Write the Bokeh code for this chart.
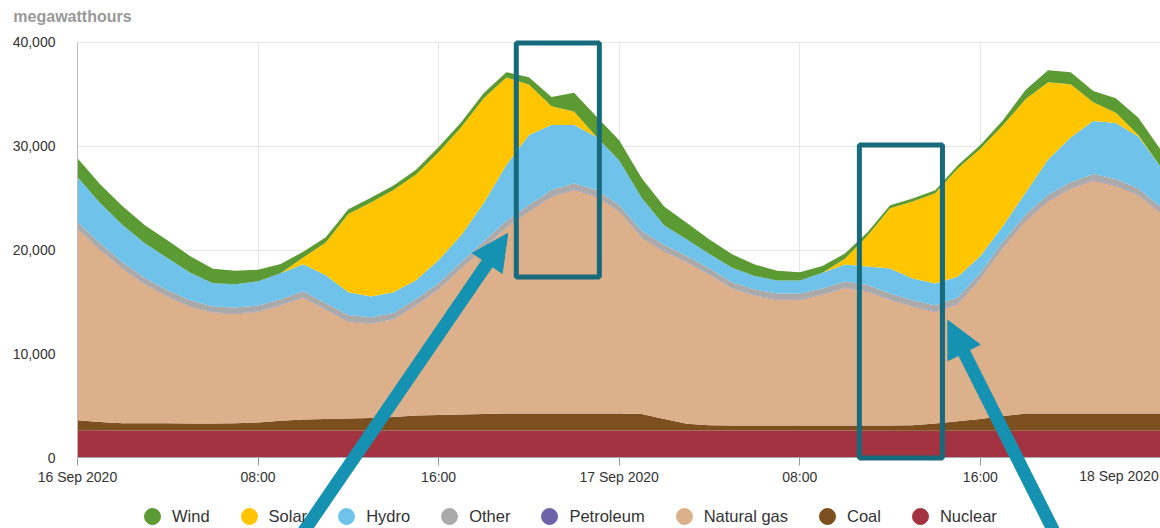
from bokeh.plotting import figure
from bokeh.models import (ColumnDataSource, FixedTicker, NumeralTickFormatter, Legend,
                          LegendItem, Label, BoxAnnotation, Arrow, NormalHead, Grid)
from bokeh.embed import file_html
from bokeh.resources import INLINE

# ---------------- data (hours after 16 Sep 2020 00:00, megawatthours) ----------------
hours = list(range(49))

nuclear = [2620, 2620, 2610, 2610, 2610, 2600, 2600, 2600, 2600, 2600,
           2600, 2600, 2600, 2600, 2600, 2600, 2600, 2600, 2600, 2600,
           2600, 2600, 2600, 2600, 2600, 2600, 2600, 2600, 2600, 2600,
           2600, 2600, 2600, 2600, 2600, 2590, 2590, 2590, 2590, 2590,
           2590, 2590, 2590, 2590, 2590, 2590, 2590, 2590, 2590]
coal = [970, 800, 700, 680, 680, 680, 680, 690, 780, 950,
        1060, 1100, 1150, 1200, 1300, 1450, 1500, 1550, 1600, 1640,
        1640, 1640, 1640, 1640, 1640, 1600, 1100, 650, 500, 490,
        485, 485, 485, 485, 485, 485, 485, 520, 680, 900,
        1130, 1400, 1640, 1640, 1640, 1640, 1640, 1640, 1640]
natural_gas = [18470, 16590, 14890, 13360, 12210, 11260, 10660, 10550, 10660, 11090,
               11730, 10540, 9340, 9090, 9390, 10590, 12090, 14040, 15990, 17900,
               19450, 20900, 21550, 20900, 19450, 16990, 16140, 15540, 14490, 13200,
               12505, 12105, 12105, 12605, 13255, 12905, 12105, 11420, 10760, 11290,
               13460, 16190, 18550, 20450, 21650, 22450, 21950, 21050, 19250]
petroleum = [30, 30, 30, 30, 30, 30, 30, 30, 30, 30,
             35, 35, 35, 35, 35, 35, 35, 35, 35, 35,
             35, 35, 35, 35, 30, 30, 30, 30, 30, 30,
             30, 30, 30, 30, 30, 35, 35, 35, 35, 35,
             35, 35, 35, 35, 35, 35, 35, 35, 30]
other = [600, 600, 590, 590, 580, 580, 580, 580, 580, 590,
         600, 600, 600, 600, 600, 600, 600, 600, 610, 610,
         620, 620, 620, 620, 610, 600, 600, 590, 590, 580,
         580, 580, 580, 580, 590, 600, 600, 600, 600, 600,
         600, 600, 610, 610, 620, 620, 620, 620, 610]
hydro = [4350, 3900, 3600, 3350, 3100, 2650, 2250, 2250, 2350, 2500,
         2600, 2700, 2200, 2000, 2000, 1800, 2200, 2600, 3700, 5400,
         6750, 6250, 5600, 5100, 4300, 3200, 1900, 1600, 1400, 1400,
         1300, 1250, 1250, 1500, 1650, 1800, 2400, 2100, 2100, 2000,
         1600, 1500, 2100, 3400, 4300, 5100, 5400, 5000, 3850]
solar = [0, 0, 0, 0, 0, 0, 0, 0, 0, 0,
         650, 3150, 7550, 9050, 9850, 10200, 10400, 10400, 10100, 8450,
         4850, 1800, 1300, 0, 0, 0, 0, 0, 0, 0,
         0, 0, 0, 0, 550, 2950, 5800, 7400, 8700, 10450,
         10350, 9700, 9000, 7450, 5150, 1800, 1000, 150, 0]
wind = [1800, 1800, 1800, 1750, 1700, 1600, 1400, 1300, 1100, 900,
        550, 500, 450, 450, 450, 450, 500, 500, 500, 500,
        700, 900, 1800, 1950, 1950, 1900, 1800, 1600, 1400, 1300,
        1100, 950, 800, 650, 500, 350, 300, 300, 300, 300,
        350, 500, 900, 1150, 1150, 1100, 1400, 1650, 1650]

tick_hours = [0, 8, 16, 24, 32, 40, 48]
tick_labels = ["16 Sep 2020", "08:00", "16:00", "17 Sep 2020", "08:00", "16:00", "18 Sep 2020"]
y_ticks = [0, 10000, 20000, 30000, 40000]

series_keys = ["nuclear", "coal", "natural_gas", "petroleum", "other", "hydro", "solar", "wind"]
series_names = ["Nuclear", "Coal", "Natural gas", "Petroleum", "Other", "Hydro", "Solar", "Wind"]
series_colors = ["#a33340", "#7e4f1e", "#dcb08b", "#6e63a8", "#aaaaaa", "#6fc3ea", "#ffc600", "#5c9a33"]

# highlight boxes and arrows (hours, megawatthours)
box_left = [19.44, 34.64]
box_right = [23.12, 38.32]
box_top = [39950, 30120]
box_bottom = [17400, -50]
arrow_x_start = [9.75, 43.46]
arrow_y_start = [-8000, -8000]
arrow_x_end = [19.06, 38.56]
arrow_y_end = [21590, 13210]

FONT = "Liberation Sans"
BOX_COLOR = "#17697c"
ARROW_COLOR = "#1592b1"
X_START, X_END = -3.41, 47.98
Y_START, Y_END = -6843, 44048

source = ColumnDataSource(data=dict(hour=hours, nuclear=nuclear, coal=coal,
                                    natural_gas=natural_gas, petroleum=petroleum,
                                    other=other, hydro=hydro, solar=solar, wind=wind))

p = figure(width=1160, height=528, output_backend="svg", toolbar_location=None,
           x_range=(X_START, X_END), y_range=(Y_START, Y_END), title=None,
           min_border_left=0, min_border_right=0, min_border_top=0, min_border_bottom=0)
p.outline_line_color = None
p.background_fill_color = "white"
p.border_fill_color = "white"

p.varea_stack(stackers=series_keys, x="hour", color=series_colors, source=source)

# axes (drawn at the data origin)
p.xaxis.fixed_location = 0
p.xaxis.bounds = (tick_hours[0], tick_hours[-1])
p.xaxis.ticker = FixedTicker(ticks=tick_hours)
p.xaxis.major_label_overrides = {h: lab for h, lab in zip(tick_hours, tick_labels)}
p.xaxis.minor_tick_line_color = None
p.xaxis.major_tick_out = 8
p.xaxis.major_tick_in = 0
p.xaxis.major_tick_line_color = "#999999"
p.xaxis.axis_line_color = "#aaaaaa"
p.xaxis.major_label_text_font = FONT
p.xaxis.major_label_text_font_size = "14px"
p.xaxis.major_label_text_color = "#333333"
p.xaxis.major_label_standoff = 3

p.yaxis.fixed_location = 0
p.yaxis.bounds = (y_ticks[0], y_ticks[-1])
p.yaxis.ticker = FixedTicker(ticks=y_ticks)
p.yaxis.formatter = NumeralTickFormatter(format="0,0")
p.yaxis.major_tick_line_color = None
p.yaxis.minor_tick_line_color = None
p.yaxis.major_tick_out = 0
p.yaxis.major_tick_in = 0
p.yaxis.axis_line_color = "#bbbbbb"
p.yaxis.major_label_text_font = FONT
p.yaxis.major_label_text_font_size = "14px"
p.yaxis.major_label_text_color = "#333333"
p.yaxis.major_label_standoff = 22

GRID_COLOR = "#e6e6e6"
if "cross_bounds" in Grid.properties():
    p.xgrid.ticker = FixedTicker(ticks=tick_hours)
    p.ygrid.ticker = FixedTicker(ticks=y_ticks)
    p.xgrid.cross_bounds = (y_ticks[0], y_ticks[-1])
    p.ygrid.cross_bounds = (tick_hours[0], tick_hours[-1])
    p.xgrid.grid_line_color = GRID_COLOR
    p.ygrid.grid_line_color = GRID_COLOR
else:
    p.xgrid.visible = False
    p.ygrid.visible = False
    p.segment(x0=tick_hours, x1=tick_hours, y0=[y_ticks[0]] * len(tick_hours),
              y1=[y_ticks[-1]] * len(tick_hours), line_color=GRID_COLOR, level="underlay")
    p.segment(x0=[tick_hours[0]] * len(y_ticks), x1=[tick_hours[-1]] * len(y_ticks),
              y0=y_ticks, y1=y_ticks, line_color=GRID_COLOR, level="underlay")

# last date label (its tick lies at the cropped right edge, so it is justified left)
p.add_layout(Label(x=47.9, y=-1831, text=tick_labels[-1], text_align="right",
                   text_baseline="middle", text_font=FONT, text_font_size="14px",
                   text_color="#333333"))

# unit label
p.add_layout(Label(x=-2.84, y=42500, text="megawatthours", text_align="left",
                   text_baseline="middle", text_font=FONT, text_font_size="16px",
                   text_font_style="bold", text_color="#999999"))

# legend with circle markers (marker renderers hold a single undrawn NaN point)
nan = float("nan")
legend_items = []
for name, col in list(zip(series_names, series_colors))[::-1]:
    r = p.scatter(x=[nan], y=[nan], marker="circle", size=16, fill_color=col, line_color=col)
    legend_items.append(LegendItem(label=name, renderers=[r]))
legend = Legend(items=legend_items, orientation="horizontal", location=(132, -8),
                glyph_width=40, glyph_height=40, label_standoff=0, spacing=19,
                padding=0, margin=0, border_line_color=None, background_fill_alpha=0,
                label_text_font=FONT, label_text_font_size="16.5px", label_text_color="#333333")
p.add_layout(legend)

# highlight boxes
for l, r_, t, b in zip(box_left, box_right, box_top, box_bottom):
    p.add_layout(BoxAnnotation(left=l, right=r_, top=t, bottom=b, fill_color=None,
                               fill_alpha=0, line_color=BOX_COLOR, line_alpha=1,
                               line_width=5))

# arrows
for xs, ys, xe, ye in zip(arrow_x_start, arrow_y_start, arrow_x_end, arrow_y_end):
    p.add_layout(Arrow(end=NormalHead(size=36, fill_color=ARROW_COLOR, line_color=ARROW_COLOR),
                       x_start=xs, y_start=ys, x_end=xe, y_end=ye,
                       line_color=ARROW_COLOR, line_width=13))

open("out.html", "w").write(file_html(p, INLINE))
